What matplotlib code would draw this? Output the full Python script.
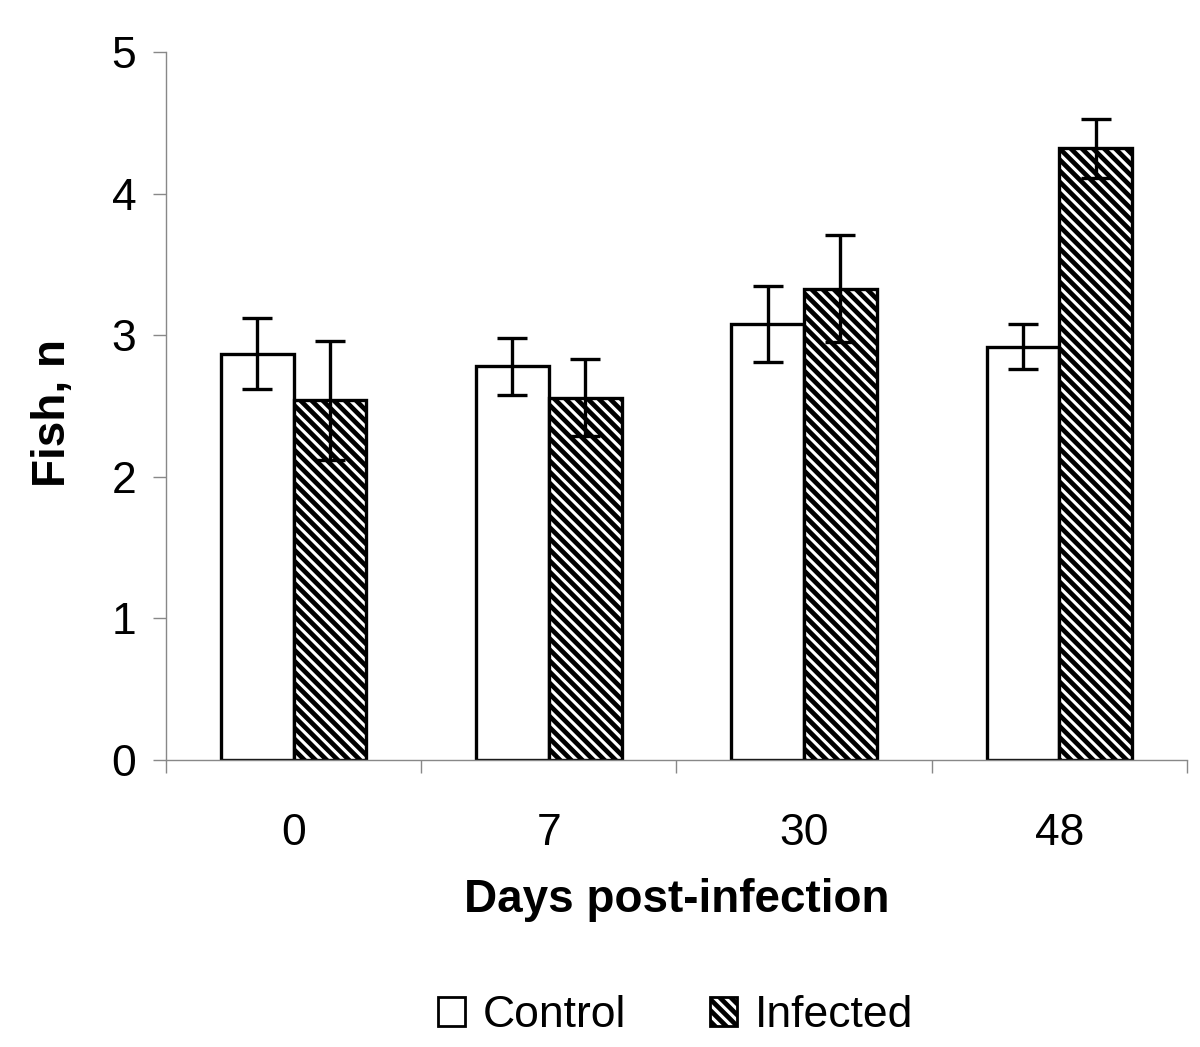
import numpy as np
import matplotlib
matplotlib.use('Agg')
import matplotlib.pyplot as plt
from matplotlib.patches import Patch

##Data
days = ['0', '7', '30', '48']
control = [2.87, 2.78, 3.08, 2.92]
control_err = [0.25, 0.20, 0.27, 0.16]
infected = [2.54, 2.56, 3.33, 4.32]
infected_err = [0.42, 0.27, 0.38, 0.21]

plt.rcParams['font.family'] = ['Liberation Sans', 'DejaVu Sans']
plt.rcParams['hatch.linewidth'] = 1.7

fig = plt.figure(figsize=(6, 5.235), dpi=200)
ax = fig.add_axes([0.1383, 0.2741, 0.8508, 0.6762])

x = np.arange(len(days))
w = 0.285
hatch = '\\' * 6
ekw = dict(ecolor='black', elinewidth=1.2, capsize=5.5, capthick=1.2)
ax.bar(x - w / 2, control, w, yerr=control_err, color='white', edgecolor='black',
       linewidth=1.2, error_kw=ekw, zorder=2)
ax.bar(x + w / 2, infected, w, yerr=infected_err, color='white', edgecolor='black',
       linewidth=1.2, hatch=hatch, error_kw=ekw, zorder=2)

ax.set_xlim(-0.5, len(days) - 0.5)
ax.set_ylim(0, 5)
ax.set_yticks([0, 1, 2, 3, 4, 5])

##category ticks at boundaries, labels at centers
ax.set_xticks(x)
ax.set_xticklabels(days)
ax.set_xticks(np.arange(len(days) + 1) - 0.5, minor=True)
ax.tick_params(axis='x', which='major', length=0, pad=19, labelsize=16)
ax.tick_params(axis='x', which='minor', length=4.7, width=0.5, color='#888888')
ax.tick_params(axis='y', length=4.7, width=0.5, color='#888888', pad=6, labelsize=16)

for s in ['top', 'right']:
    ax.spines[s].set_visible(False)
for s in ['left', 'bottom']:
    ax.spines[s].set_color('#888888')
    ax.spines[s].set_linewidth(0.5)

fig.text(0.564, 0.14, 'Days post-infection', ha='center', va='center',
         fontsize=16.5, fontweight='bold')
fig.text(0.044, 0.606, 'Fish, n', ha='center', va='center', rotation=90,
         fontsize=16.5, fontweight='bold')

handles = [Patch(facecolor='white', edgecolor='black', linewidth=1.0, label='Control'),
           Patch(facecolor='white', edgecolor='black', linewidth=1.0, hatch=hatch,
                 label='Infected')]
fig.legend(handles=handles, loc='center', bbox_to_anchor=(0.563, 0.03), ncol=2,
           frameon=False, fontsize=16, handlelength=0.6, handleheight=0.6,
           handletextpad=0.4, columnspacing=1.9)

fig.savefig('out.png', dpi=200)
